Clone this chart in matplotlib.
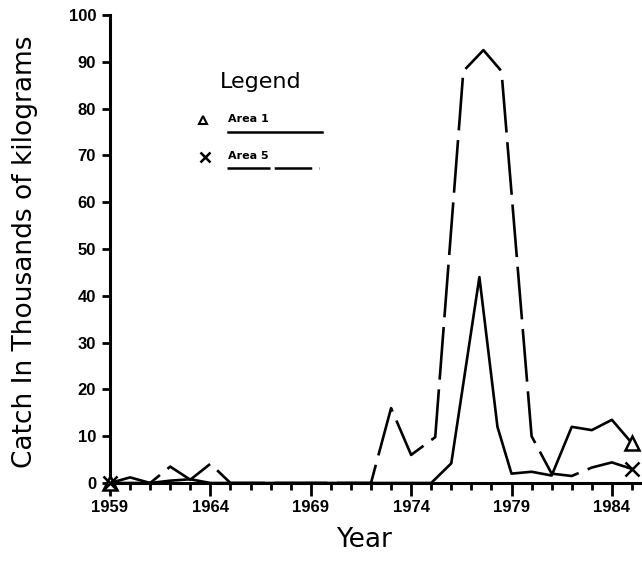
import numpy as np
import matplotlib
matplotlib.use("Agg")
import matplotlib.pyplot as plt
from matplotlib.ticker import MultipleLocator

plt.rcParams["lines.scale_dashes"] = False
plt.rcParams["font.family"] = "DejaVu Sans"

# Catch per year, thousands of kg
area1_years = [1959, 1960, 1961, 1962, 1963, 1964, 1965, 1966, 1967, 1968,
               1969, 1970, 1971, 1972, 1973, 1974, 1975, 1976, 1977.4,
               1978.3, 1979, 1980, 1981, 1982, 1983, 1984, 1985]
area1_catch = [0, 1.2, 0, 0.5, 0.8, 0, 0, 0, 0, 0,
               0, 0, 0, 0, 0, 0, 0, 4.2, 44,
               12, 2, 2.4, 1.6, 12, 11.3, 13.5, 8.5]

area5_years = [1959, 1960, 1961, 1962, 1963, 1964, 1965, 1966, 1967, 1968,
               1969, 1970, 1971, 1972, 1973, 1974, 1975.2, 1976.6, 1977.6,
               1978.5, 1980, 1981, 1982, 1983, 1984, 1985]
area5_catch = [0, 0, 0, 3.5, 0.7, 4.1, 0, 0, 0, 0,
               0, 0, 0, 0, 16, 6, 9.8, 88, 92.5,
               88, 10, 2, 1.5, 3.3, 4.4, 3]

year_ticks = [1959, 1964, 1969, 1974, 1979, 1984]
catch_ticks = list(range(0, 101, 10))

fig = plt.figure(figsize=(6.42, 5.67), dpi=100)
ax = fig.add_axes([110 / 642, 1 - 483 / 567, 532 / 642, 468 / 567])

lw = 1.9
ax.plot(area1_years, area1_catch, color="black", lw=lw, solid_joinstyle="round",
        marker="^", markevery=[0, len(area1_years) - 1], markersize=10,
        markerfacecolor="white", markeredgecolor="black", markeredgewidth=1.8,
        clip_on=False, zorder=3)
ax.plot(area5_years, area5_catch, color="black", lw=lw, linestyle=(0, (38, 7)),
        marker="x", markevery=[0, len(area5_years) - 1], markersize=10,
        markeredgewidth=1.8, clip_on=False, zorder=3)

ax.set_xlim(1959, 1985.5)
ax.set_ylim(0, 100)

ax.spines["top"].set_visible(False)
ax.spines["right"].set_visible(False)
ax.spines["left"].set_linewidth(2.2)
ax.spines["bottom"].set_linewidth(2.2)

ax.set_xticks(year_ticks)
ax.xaxis.set_minor_locator(MultipleLocator(1))
ax.set_yticks(catch_ticks)
ax.tick_params(axis="x", which="major", length=9, width=2, pad=3)
ax.tick_params(axis="x", which="minor", length=5, width=2)
ax.tick_params(axis="y", which="major", length=6, width=2, pad=4)
for lab in ax.get_xticklabels() + ax.get_yticklabels():
    lab.set_fontfamily("Liberation Sans")
    lab.set_fontweight("bold")
    lab.set_fontsize(12)

ax.set_ylabel("Catch In Thousands of kilograms", fontsize=19)
ax.yaxis.set_label_coords(-0.135, 0.494)
ax.set_xlabel("Year", fontsize=19)
ax.xaxis.set_label_coords(0.478, -0.095)

# hand-drawn style legend
ax.text(0.284, 0.857, "Legend", fontsize=16, ha="center", va="center",
        transform=ax.transAxes)
ax.plot([0.175], [0.776], marker="^", markersize=6, markerfacecolor="white",
        markeredgecolor="black", markeredgewidth=1.5, transform=ax.transAxes,
        clip_on=False)
ax.text(0.222, 0.778, "Area 1", fontsize=8, fontweight="bold", ha="left",
        va="center", transform=ax.transAxes)
ax.plot([0.222, 0.398], [0.750, 0.750], color="black", lw=1.8,
        transform=ax.transAxes, clip_on=False)
ax.plot([0.179], [0.697], marker="x", markersize=7, markeredgewidth=1.8,
        color="black", transform=ax.transAxes, clip_on=False)
ax.text(0.222, 0.699, "Area 5", fontsize=8, fontweight="bold", ha="left",
        va="center", transform=ax.transAxes)
ax.plot([0.220, 0.393], [0.673, 0.673], color="black", lw=1.8,
        linestyle=(0, (31, 3, 27, 5, 1.5, 10)), transform=ax.transAxes,
        clip_on=False)

fig.savefig("out.png", dpi=100)
